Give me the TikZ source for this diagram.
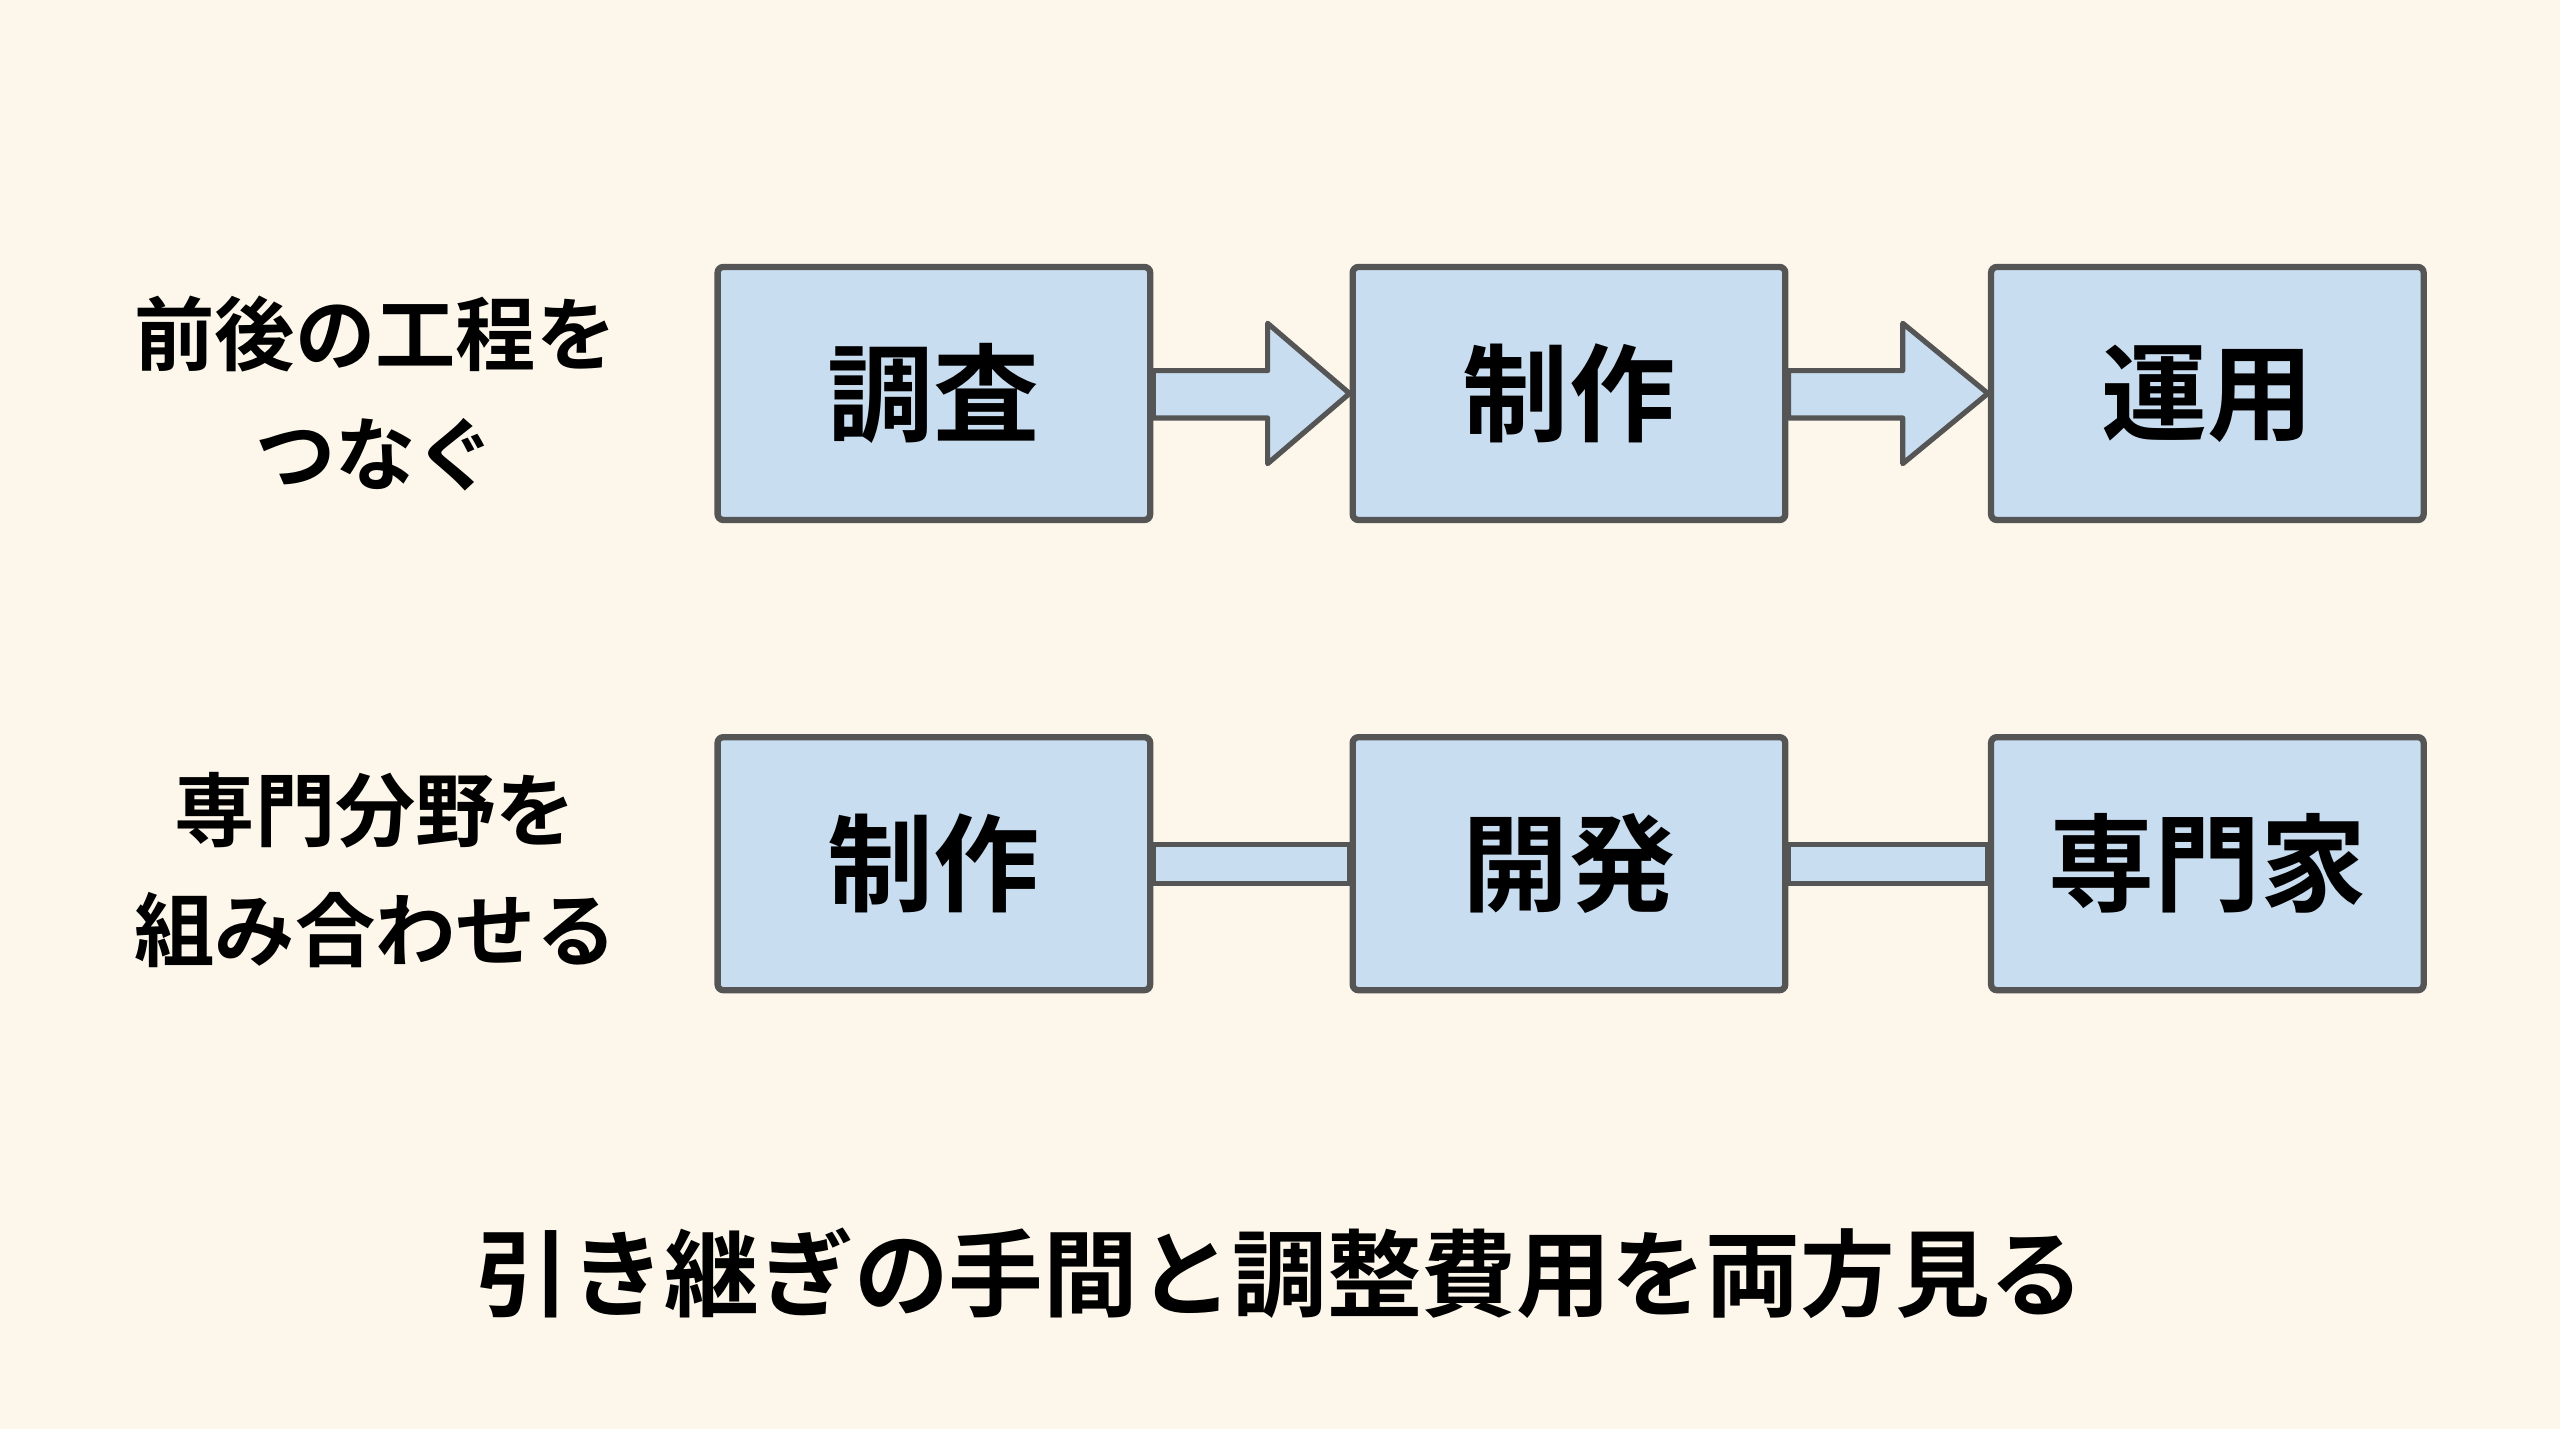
\documentclass[tikz,border=0pt]{standalone}
\usepackage{fontspec}
\usetikzlibrary{calc}
\newfontfamily\cjk{Noto Sans CJK JP}[BoldFont={Noto Sans CJK JP Bold}]
\definecolor{bg}{HTML}{FCF7EA}
\definecolor{bx}{HTML}{C9DDF0}
\definecolor{ln}{HTML}{555555}
\begin{document}
\begin{tikzpicture}[x=0.02cm,y=-0.02cm,
 box/.style={draw=ln,fill=bx,line width=2.2pt,rounded corners=2pt,minimum width=5.3cm,minimum height=3.1cm,font=\cjk\bfseries\fontsize{37}{44}\selectfont},
 lab/.style={font=\cjk\bfseries\fontsize{28}{42}\selectfont,align=center},
 conn/.style={draw=ln,fill=bx,line width=1.8pt,line join=round}]
\fill[bg] (0,0) rectangle (1568,875);
\node[box] (a1) at (572,241) {調査};
\node[box] (a2) at (961,241) {制作};
\node[box] (a3) at (1352,241) {運用};
\node[box] (b1) at (572,529) {制作};
\node[box] (b2) at (961,529) {開発};
\node[box] (b3) at (1352,529) {専門家};
\node[lab] (l1) at (230,241) {前後の工程を\\つなぐ};
\node[lab] (l2) at (230,533) {専門分野を\\組み合わせる};
\node[font=\cjk\bfseries\fontsize{33}{40}\selectfont] (t) at (784,780) {引き継ぎの手間と調整費用を両方見る};
\foreach \s/\e in {a1/a2,a2/a3}{
 \draw[conn] ($(\s.east)+(0,-14)$) -- ($(\s.east)+(70,-14)$) -- ($(\s.east)+(70,-43)$) -- (\e.west)
   -- ($(\s.east)+(70,43)$) -- ($(\s.east)+(70,15)$) -- ($(\s.east)+(0,15)$) -- cycle;
}
\foreach \s/\e in {b1/b2,b2/b3}{
 \draw[conn] ($(\s.east)+(0,-12)$) rectangle ($(\e.west)+(0,12)$);
}
\end{tikzpicture}
\end{document}
